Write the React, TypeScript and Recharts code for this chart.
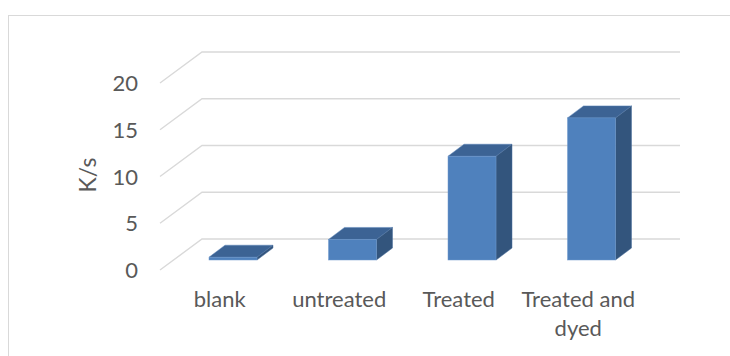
import React from 'react';
import { BarChart, Bar, XAxis, YAxis, CartesianGrid, Label } from 'recharts';

const categories = ['blank', 'untreated', 'Treated', 'Treated and dyed'];
const rates = [0.3, 2.2, 11.1, 15.2];
const yTicks = [0, 5, 10, 15, 20];

const data = categories.map((name, i) => ({ name, rate: rates[i] }));

const FONT = 'Lato, "Open Sans", sans-serif';
const TEXT = '#595959';
const GRID = '#d9d9d9';

// depth of the floor/wall (front edge -> back wall) and of a single column
const WALL_DX = 42;
const WALL_DY = 31;
const FRONT_DX = -13; // front edge relative to the column front plane
const FRONT_DY = 10;
const BAR_DX = 16;
const BAR_DY = 12;

// wall gridline: short diagonal on the side wall, then across the back wall
const renderGridLine = (props: any) => {
  const { x1, x2, y1, index } = props;
  const fx = x1 + FRONT_DX;
  const fy = y1 + FRONT_DY;
  const bx = fx + WALL_DX;
  const by = fy - WALL_DY;
  const bxEnd = x2 + FRONT_DX + WALL_DX;
  return (
    <path
      key={`grid-${index}`}
      d={`M${fx},${fy} L${bx},${by} L${bxEnd},${by}`}
      fill="none"
      stroke={GRID}
      strokeWidth={1.4}
    />
  );
};

const Column3D = (props: any) => {
  const { x, y, width, height } = props;
  if (width == null || height == null) return null;
  const r = x + width;
  const b = y + height;
  return (
    <g>
      <path
        d={`M${x},${y} L${r},${y} L${r + BAR_DX},${y - BAR_DY} L${x + BAR_DX},${y - BAR_DY} Z`}
        fill="#3c6394"
        stroke="#5a84b8"
        strokeWidth={0.5}
      />
      <path
        d={`M${r},${y} L${r + BAR_DX},${y - BAR_DY} L${r + BAR_DX},${b - BAR_DY} L${r},${b} Z`}
        fill="#33557d"
        stroke="#4a6f9c"
        strokeWidth={0.5}
      />
      <rect x={x} y={y} width={width} height={height} fill="#4f81bd" stroke="#6f98cc" strokeWidth={0.5} />
    </g>
  );
};

const wrapLabel = (s: string) => {
  if (s.length <= 12) return [s];
  const cut = s.lastIndexOf(' ');
  return [s.slice(0, cut), s.slice(cut + 1)];
};

const CategoryTick = (props: any) => {
  const { x, y, payload } = props;
  const lines = wrapLabel(String(payload.value));
  return (
    <text x={x - 13} y={y + 47} textAnchor="middle" fill={TEXT} fontSize={22} fontFamily={FONT}>
      {lines.map((l, i) => (
        <tspan key={i} x={x - 13} dy={i === 0 ? 0 : 28.5}>
          {l}
        </tspan>
      ))}
    </text>
  );
};

const ValueTick = (props: any) => {
  const { y, payload } = props;
  return (
    <text x={138} y={y + FRONT_DY + 8} textAnchor="end" fill={TEXT} fontSize={22} fontFamily={FONT}>
      {payload.value}
    </text>
  );
};

export default function App() {
  return (
    <div style={{ position: 'absolute', left: 0, top: 0, width: 730, height: 356, overflow: 'hidden', background: '#fff' }}>
      <div
        style={{
          position: 'absolute',
          left: 8,
          top: 15,
          width: 740,
          height: 400,
          border: '1px solid #d9d9d9',
          boxSizing: 'border-box',
        }}
      />
      <div style={{ position: 'absolute', left: 0, top: 0 }}>
        <BarChart width={730} height={356} data={data} margin={{ top: 73, right: 79, bottom: 36, left: 113 }}>
          <CartesianGrid horizontal={renderGridLine} vertical={false} />
          <XAxis
            dataKey="name"
            axisLine={false}
            tickLine={false}
            tickSize={0}
            tickMargin={0}
            height={60}
            interval={0}
            tick={<CategoryTick />}
          />
          <YAxis
            domain={[0, 20]}
            ticks={yTicks}
            axisLine={false}
            tickLine={false}
            width={60}
            tick={<ValueTick />}
          >
            <Label
              content={() => (
                <text
                  x={96}
                  y={175}
                  transform="rotate(-90 96 175)"
                  textAnchor="middle"
                  fill={TEXT}
                  fontSize={23}
                  fontFamily={FONT}
                >
                  K/s
                </text>
              )}
            />
          </YAxis>
          <Bar dataKey="rate" barSize={48} shape={<Column3D />} isAnimationActive={false} />
        </BarChart>
      </div>
    </div>
  );
}
